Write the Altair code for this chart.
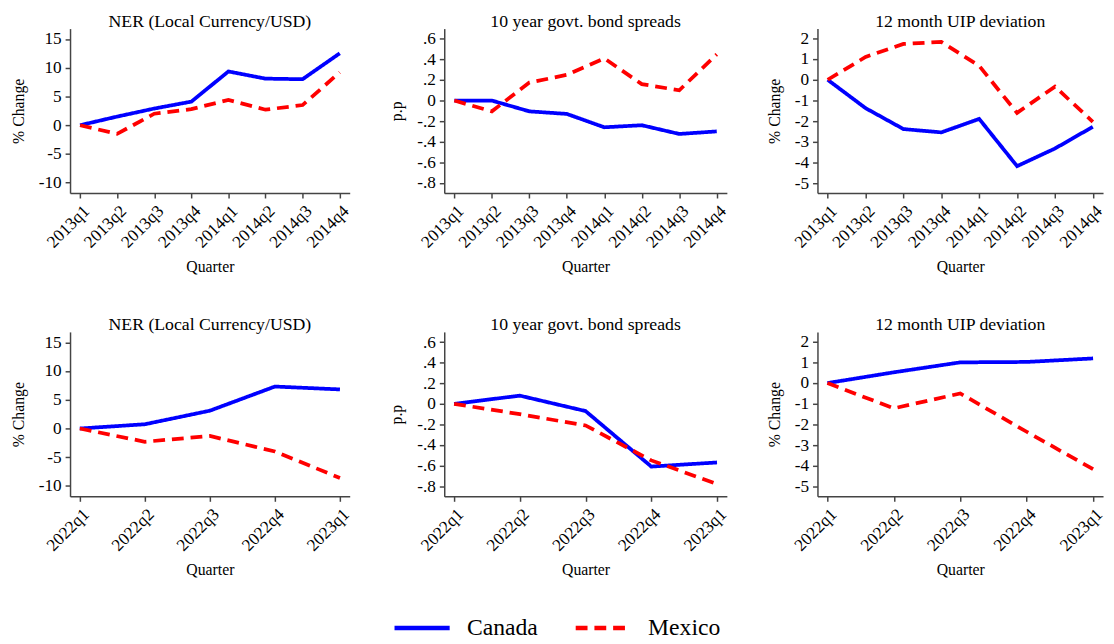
import altair as alt
import pandas as pd

FONT = "Liberation Serif"

countries = ["Canada", "Mexico"]
colors = ["#0000ff", "#ff0000"]

q13 = ["2013q1", "2013q2", "2013q3", "2013q4", "2014q1", "2014q2", "2014q3", "2014q4"]
q22 = ["2022q1", "2022q2", "2022q3", "2022q4", "2023q1"]

ner13_can = [0, 1.5, 2.9, 4.1, 9.35, 8.1, 8.0, 12.5]
ner13_mex = [0, -1.5, 2.0, 2.8, 4.4, 2.7, 3.5, 9.2]
bond13_can = [0, 0, -0.105, -0.13, -0.26, -0.24, -0.325, -0.30]
bond13_mex = [0, -0.105, 0.175, 0.25, 0.41, 0.16, 0.10, 0.45]
uip13_can = [0, -1.37, -2.38, -2.54, -1.89, -4.17, -3.32, -2.27]
uip13_mex = [0, 1.1, 1.73, 1.83, 0.67, -1.6, -0.33, -2.03]

ner22_can = [0, 0.74, 3.1, 7.3, 6.8]
ner22_mex = [0, -2.3, -1.3, -4.0, -8.6]
bond22_can = [0, 0.08, -0.07, -0.61, -0.57]
bond22_mex = [0, -0.10, -0.21, -0.55, -0.78]
uip22_can = [0, 0.52, 1.0, 1.02, 1.19]
uip22_mex = [0, -1.22, -0.5, -2.35, -4.16]

titles = ["NER (Local Currency/USD)", "10 year govt. bond spreads", "12 month UIP deviation"]
ytitles = ["% Change", "p.p", "% Change"]
ner_ticks = [-10, -5, 0, 5, 10, 15]
bond_ticks = [-0.8, -0.6, -0.4, -0.2, 0, 0.2, 0.4, 0.6]
uip_ticks = [-5, -4, -3, -2, -1, 0, 1, 2]

int_expr = "toString(datum.value)"
dec_expr = ("datum.value == 0 ? '0' : (datum.value < 0 ? '-' : '') + '.' + "
            "toString(round(abs(datum.value) * 10))")

legend = alt.Legend(
    title=None, orient="none", legendX=327, legendY=578, direction="horizontal",
    symbolType="stroke", symbolSize=3136, symbolStrokeWidth=4.5,
    labelFontSize=24, labelFont=FONT, labelColor="black", labelOffset=15,
    columnPadding=29, padding=0, columns=2,
)


def panel(quarters, can, mex, title, ytitle, ydomain, yticks, yexpr, width, xpad):
    df = pd.DataFrame({
        "Quarter": quarters * 2,
        "value": can + mex,
        "Country": ["Canada"] * len(can) + ["Mexico"] * len(mex),
    })
    return alt.Chart(df, title=alt.Title(title)).mark_line(strokeWidth=3.8).encode(
        x=alt.X("Quarter:O", sort=quarters,
                scale=alt.Scale(type="point", padding=xpad),
                axis=alt.Axis(title="Quarter", labelAngle=-45, labelOverlap=False)),
        y=alt.Y("value:Q",
                scale=alt.Scale(domain=ydomain, nice=False, zero=False),
                axis=alt.Axis(title=ytitle, values=yticks, labelExpr=yexpr)),
        color=alt.Color("Country:N", scale=alt.Scale(domain=countries, range=colors), legend=legend),
        strokeDash=alt.StrokeDash("Country:N",
                                  scale=alt.Scale(domain=countries, range=[[1, 0], [12, 7]]),
                                  legend=legend),
    ).properties(width=width, height=167)


widths = [284, 287, 290]
ner_dom = [-11.8, 16.8]
bond_dom = [-0.9, 0.7]
uip_dom = [-5.47, 2.47]

row1 = alt.hconcat(
    panel(q13, ner13_can, ner13_mex, titles[0], ytitles[0], ner_dom, ner_ticks, int_expr, widths[0], 0.27),
    panel(q13, bond13_can, bond13_mex, titles[1], ytitles[1], bond_dom, bond_ticks, dec_expr, widths[1], 0.27),
    panel(q13, uip13_can, uip13_mex, titles[2], ytitles[2], uip_dom, uip_ticks, int_expr, widths[2], 0.27),
    spacing=37,
)
row2 = alt.hconcat(
    panel(q22, ner22_can, ner22_mex, titles[0], ytitles[0], ner_dom, ner_ticks, int_expr, widths[0], 0.15),
    panel(q22, bond22_can, bond22_mex, titles[1], ytitles[1], bond_dom, bond_ticks, dec_expr, widths[1], 0.15),
    panel(q22, uip22_can, uip22_mex, titles[2], ytitles[2], uip_dom, uip_ticks, int_expr, widths[2], 0.15),
    spacing=37,
)

chart = alt.vconcat(row1, row2, spacing=42).properties(
    padding={"left": 2, "top": 0, "right": 0, "bottom": 0}
).configure_view(stroke=None).configure_axis(
    domainColor="#444444", tickColor="#444444", domainWidth=1.5, tickWidth=1.5,
    tickSize=5, labelFont=FONT, titleFont=FONT, labelFontSize=17.5, titleFontSize=16,
    labelColor="black", titleColor="black", titleFontWeight="normal", grid=False,
    labelPadding=4,
).configure_axisY(titlePadding=12).configure_axisX(titlePadding=8).configure_title(
    font=FONT, fontSize=18, fontWeight="normal", color="black", offset=-2,
    frame="group", anchor="middle",
)

chart.save("out.html", embed_options={"renderer": "svg", "actions": False})
